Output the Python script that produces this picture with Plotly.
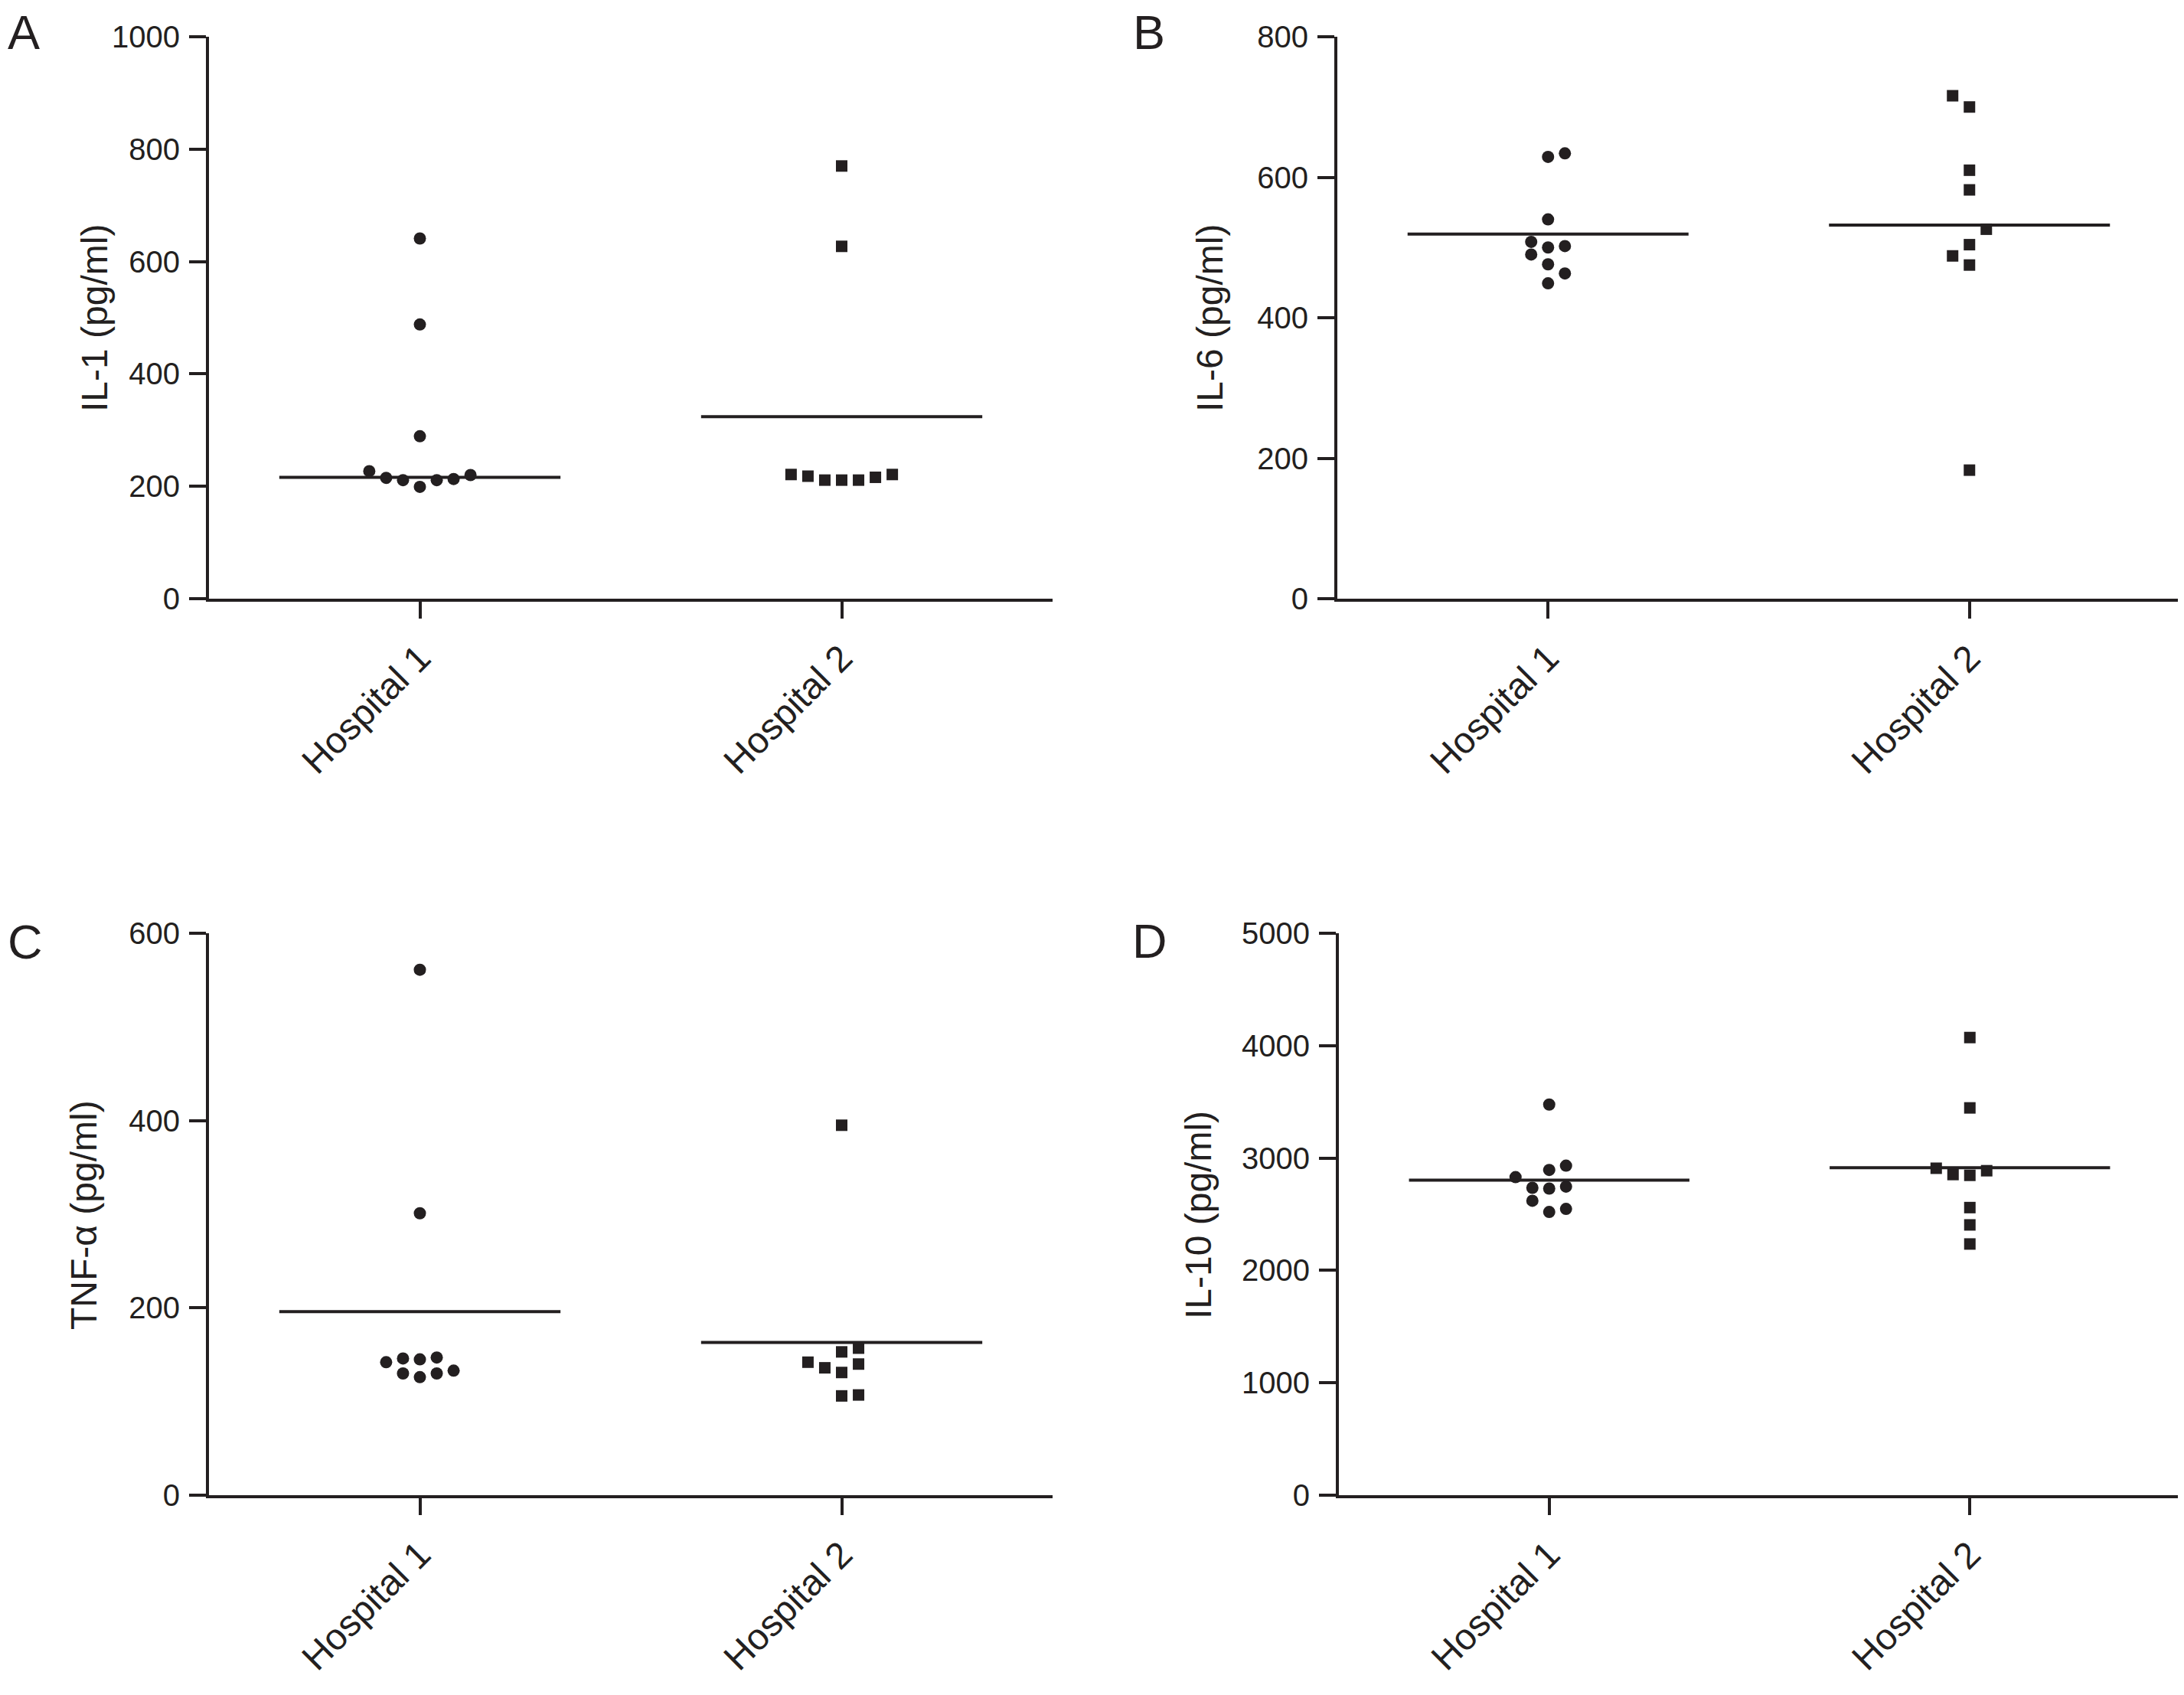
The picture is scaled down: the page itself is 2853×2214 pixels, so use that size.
import plotly.graph_objects as go

W, H = 2853, 2214
PAGE_PAD = 8  # default body margin of the html page

groups = ["Hospital 1", "Hospital 2"]

# values (pg/ml)
il1_h1 = [641, 488, 289, 227, 215, 211, 199, 211, 213, 220]
il1_h2 = [770, 627, 221, 218, 211, 211, 211, 216, 221]
il1_lines = [216, 324]

il6_h1 = [634, 629, 540, 508, 502, 500, 490, 476, 463, 449]
il6_h2 = [716, 700, 610, 582, 526, 504, 488, 475, 183]
il6_lines = [519, 532]

tnf_h1 = [561, 301, 147, 146, 145, 142, 133, 130, 130, 126]
tnf_h2 = [395, 157, 153, 142, 140, 136, 131, 107, 106]
tnf_lines = [196, 163]

il10_h1 = [3476, 2932, 2894, 2830, 2746, 2735, 2728, 2620, 2547, 2520]
il10_h2 = [4072, 3446, 2909, 2887, 2853, 2846, 2559, 2405, 2235]
il10_lines = [2803, 2914]

panels = [
    dict(letter="A", title="IL-1 (pg/ml)", h1=il1_h1, h2=il1_h2, lines=il1_lines, ymax=1000, dtick=200),
    dict(letter="B", title="IL-6 (pg/ml)", h1=il6_h1, h2=il6_h2, lines=il6_lines, ymax=800, dtick=200),
    dict(letter="C", title="TNF-α (pg/ml)", h1=tnf_h1, h2=tnf_h2, lines=tnf_lines, ymax=600, dtick=200),
    dict(letter="D", title="IL-10 (pg/ml)", h1=il10_h1, h2=il10_h2, lines=il10_lines, ymax=5000, dtick=1000),
]

# plot boxes in page pixels: (left, right), (top, bottom)
x_px = [(273, 1375), (1747, 2848), (273, 1375), (1749, 2848)]
y_px = [(48, 782), (48, 782), (1219, 1953), (1219, 1953)]
title_pos = [(123, 416), (1580, 416), (109, 1587), (1565, 1587)]
letter_pos = [(31, 42), (1501, 42), (33, 1230), (1502, 1229)]

INK = "#231f20"
SANS = "Liberation Sans, Arial, Helvetica, sans-serif"


def fx(px):
    return (px - PAGE_PAD) / W


def fy(px):
    return 1 - (px - PAGE_PAD) / H


def swarm(values, px_per_unit, row_px=21.5, step=0.04):
    """Prism-like column scatter: bin close values into rows, spread each row sideways."""
    order = sorted(range(len(values)), key=lambda i: values[i])
    offs = [0.0] * len(values)
    rows = []
    for i in order:
        if rows and (values[i] - values[rows[-1][0]]) * px_per_unit < row_px:
            rows[-1].append(i)
        else:
            rows.append([i])
    for r, row in enumerate(rows):
        sign = 1 if r % 2 == 0 else -1
        for k, i in enumerate(row):
            slot = (k + 1) // 2
            side = sign if k % 2 == 1 else -sign
            offs[i] = 0.0 if k == 0 else side * slot * step
    return offs


fig = go.Figure()
layout = {}
annotations = []

for n, p in enumerate(panels):
    sfx = "" if n == 0 else str(n + 1)
    xa, ya = "x" + sfx, "y" + sfx
    (l, r), (t, b) = x_px[n], y_px[n]
    ppu = (b - t) / p["ymax"]

    for g, (vals, sym, size) in enumerate([(p["h1"], "circle", 16), (p["h2"], "square", 15)]):
        offs = swarm(vals, ppu)
        fig.add_trace(go.Scatter(
            x=[g + 1 + o for o in offs], y=vals, mode="markers",
            marker=dict(symbol=sym, size=size, color=INK, line=dict(width=0)),
            xaxis=xa, yaxis=ya, showlegend=False, cliponaxis=False,
        ))
        m = p["lines"][g]
        fig.add_trace(go.Scatter(
            x=[g + 1 - 1 / 3, g + 1 + 1 / 3], y=[m, m], mode="lines",
            line=dict(color=INK, width=4),
            xaxis=xa, yaxis=ya, showlegend=False,
        ))

    layout["xaxis" + sfx] = dict(
        domain=[fx(l), fx(r)], anchor=ya, range=[0.5, 2.5],
        tickvals=[1, 2], ticktext=groups, tickangle=-45,
        tickfont=dict(family=SANS, size=48, color=INK),
        showline=True, linecolor=INK, linewidth=4,
        ticks="outside", ticklen=22, tickwidth=3.5, tickcolor=INK,
        ticklabelstandoff=4,
        showgrid=False, zeroline=False, automargin=False,
    )
    layout["yaxis" + sfx] = dict(
        domain=[fy(b), fy(t)], anchor=xa, range=[0, p["ymax"]],
        dtick=p["dtick"], tick0=0,
        tickfont=dict(family=SANS, size=40, color=INK),
        showline=True, linecolor=INK, linewidth=4,
        ticks="outside", ticklen=22, tickwidth=3.5, tickcolor=INK,
        ticklabelstandoff=4,
        showgrid=False, zeroline=False, automargin=False,
    )
    tx, ty = title_pos[n]
    annotations.append(dict(
        text=p["title"], x=fx(tx), y=fy(ty), xref="paper", yref="paper",
        textangle=-90, showarrow=False, xanchor="center", yanchor="middle",
        font=dict(family=SANS, size=48, color=INK),
    ))
    lx, ly = letter_pos[n]
    annotations.append(dict(
        text=p["letter"], x=fx(lx), y=fy(ly), xref="paper", yref="paper",
        showarrow=False, xanchor="center", yanchor="middle",
        font=dict(family=SANS, size=63, color=INK),
    ))

fig.update_layout(
    width=W, height=H, autosize=False,
    margin=dict(l=0, r=0, t=0, b=0, autoexpand=False),
    paper_bgcolor="white", plot_bgcolor="white",
    annotations=annotations,
    **layout,
)

fig.write_html("out.html")
